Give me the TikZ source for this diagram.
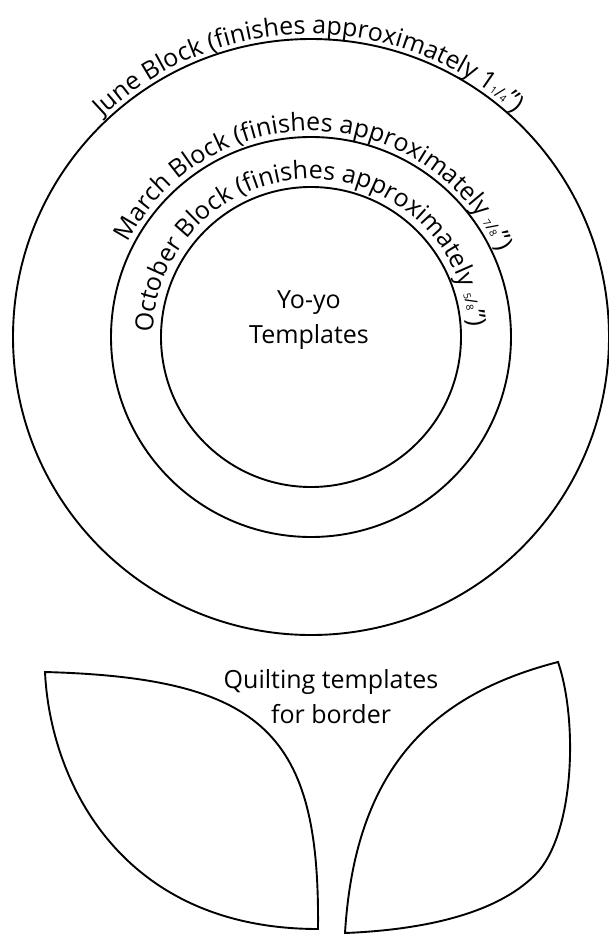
\documentclass[tikz,border=0pt]{standalone}
\usepackage{fontspec}
\setmainfont{Open Sans}
\usetikzlibrary{decorations.text}
\newcommand{\lblfont}{\fontsize{25}{35}\selectfont}
\newcommand{\fracfont}{\fontsize{17}{20}\selectfont}
\newcommand{\fracup}[1]{\raisebox{8pt}{\fracfont #1}}
\newcommand{\fracdn}[1]{\raisebox{-1pt}{\fracfont #1}}

\begin{document}
\begin{tikzpicture}[
    x=1pt, y=1pt,
    ring/.style={line width=1.9pt},
    leaf/.style={line width=1.9pt, line join=miter},
    lbl/.style={font=\lblfont, align=center, inner sep=0pt},
    arclbl/.style={decorate, decoration={text along path, text align=center, text={#1}}},
  ]
  \useasboundingbox (0,0) rectangle (609,-934);

  % Rings
  \coordinate (c) at (311,-337);
  \draw[ring] (c) circle[radius=298];
  \draw[ring] (c) circle[radius=200];
  \draw[ring] (c) circle[radius=150];
  \node[lbl] (yoyo) at (309,-320) {Yo-yo\\Templates};

  % Ring labels
  \path[arclbl={|\lblfont|June Block (finishes approximately 1|\fracup|1|\fracfont|/|\fracdn|4|\lblfont|")}]
    ([shift={(190.5:303)}]c) arc[start angle=190.5, end angle=-9.5, radius=303];
  \path[arclbl={|\lblfont|March Block (finishes approximately |\fracup|7|\fracfont|/|\fracdn|8|\lblfont|")}]
    ([shift={(188.5:206)}]c) arc[start angle=188.5, end angle=-11.5, radius=206];
  \path[arclbl={|\lblfont|October Block (finishes approximately |\fracup|5|\fracfont|/|\fracdn|8|\lblfont|")}]
    ([shift={(191:158)}]c) arc[start angle=191, end angle=-9, radius=158];

  % Border templates
  \node[lbl] (quilt) at (331,-697) {Quilting templates\\for border};

  \coordinate (ltip) at (45,-672);
  \coordinate (lfoot) at (318,-929);
  \draw[leaf] (ltip) .. controls (265,-678) and (320,-735) .. (lfoot)
    .. controls (120,-929) and (50,-780) .. cycle;

  \coordinate (rfoot) at (345,-933);
  \coordinate (rtip) at (558,-662);
  \coordinate (rbend) at (535,-875);
  \draw[leaf] (rfoot) .. controls (355,-770) and (430,-695) .. (rtip)
    .. controls (578,-720) and (575,-835) .. (rbend)
    .. controls (495,-915) and (420,-930) .. cycle;

\end{tikzpicture}
\end{document}
